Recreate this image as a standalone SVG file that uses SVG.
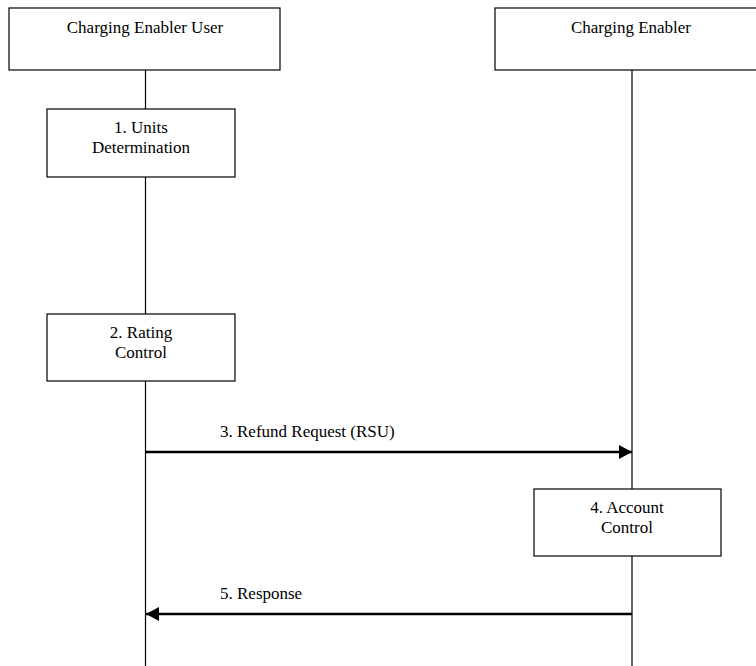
<svg xmlns="http://www.w3.org/2000/svg" width="756" height="666" viewBox="0 0 756 666">
<style>
.box{fill:#fff;stroke:#000;stroke-width:1.2}
.life{stroke:#000;stroke-width:1.2;fill:none}
.msg{stroke:#000;stroke-width:2.6;fill:none}
text{font-family:"Liberation Serif","Times New Roman",serif;font-size:17px;fill:#000}
.c{text-anchor:middle}
</style>
<defs>
<marker id="ah" markerWidth="14" markerHeight="14" refX="13" refY="7" orient="auto" markerUnits="userSpaceOnUse">
<path d="M0,0 L13,7 L0,14 Z" fill="#000"/>
</marker>
</defs>
<g id="lifelines">
<line class="life" x1="145.5" y1="70" x2="145.5" y2="666"/>
<line class="life" x1="632" y1="70" x2="632" y2="666"/>
</g>
<g id="user">
<rect class="box" x="9" y="8" width="271" height="62"/>
<text class="c" x="145" y="33">Charging Enabler User</text>
</g>
<g id="enabler">
<rect class="box" x="495" y="8" width="272" height="62"/>
<text class="c" x="631" y="33">Charging Enabler</text>
</g>
<g id="step1">
<rect class="box" x="47" y="109" width="188" height="68"/>
<text class="c" x="141" y="133">1. Units</text>
<text class="c" x="141" y="153">Determination</text>
</g>
<g id="step2">
<rect class="box" x="47" y="314" width="188" height="67"/>
<text class="c" x="141" y="338">2. Rating</text>
<text class="c" x="141" y="358">Control</text>
</g>
<g id="step4">
<rect class="box" x="534" y="489" width="187" height="67"/>
<text class="c" x="627" y="513">4. Account</text>
<text class="c" x="627" y="533">Control</text>
</g>
<g id="connectors">
<line class="msg" x1="146" y1="452" x2="632" y2="452" marker-end="url(#ah)"/>
<line class="msg" x1="632" y1="614" x2="146" y2="614" marker-end="url(#ah)"/>
</g>
<g id="labels">
<text x="220" y="437">3. Refund Request (RSU)</text>
<text x="220" y="599">5. Response</text>
</g>
</svg>
